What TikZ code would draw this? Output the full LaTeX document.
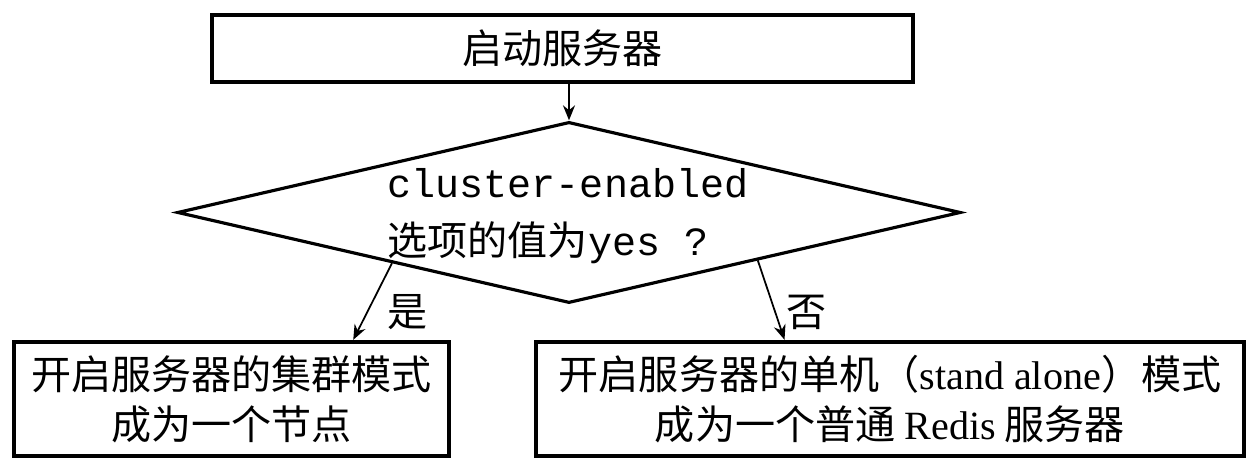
\documentclass[tikz,border=0pt]{standalone}
\usepackage{fontspec}
\setmainfont{Liberation Serif}
\setmonofont{Liberation Mono}
\newfontfamily\cjk{Noto Sans CJK SC}
\usepackage{tikz}
\usetikzlibrary{shapes.geometric, arrows.meta, calc}

\begin{document}
\begin{tikzpicture}[x=0.01cm, y=-0.01cm, >={Stealth[length=1.5mm, width=1.2mm]},
  box/.style={draw, line width=1.2pt, inner sep=0pt, font=\cjk\fontsize{11.4}{14.2}\selectfont, align=center},
  lbl/.style={font=\cjk\fontsize{11.4}{14}\selectfont}]
\useasboundingbox (0,0) rectangle (1248,459);
\node[box, minimum width=7.01cm, minimum height=0.67cm] (start) at (562.5,48.5) {启动服务器};
\node[diamond, draw, line width=0.9pt, aspect=4.3, inner sep=0pt, minimum width=7.83cm, minimum height=1.81cm] (check) at (569,212.5) {};
\node[align=left, inner sep=0pt, font=\cjk\fontsize{11.4}{14}\selectfont] (checktext) at (568,216) {\texttt{cluster-enabled}\\[2.3pt]选项的值为\texttt{yes ?}};
\node[box, minimum width=4.35cm, minimum height=1.14cm] (cluster) at (231.5,399) {开启服务器的集群模式\\成为一个节点};
\node[box, minimum width=7.08cm, minimum height=1.14cm] (single) at (890,399) {开启服务器的单机（\textrm{stand alone}）模式\\成为一个普通~\textrm{Redis}~服务器};
% branches
\coordinate (yesfrom) at ($(check.west)!0.55!(check.south)$);
\coordinate (nofrom) at ($(check.east)!0.52!(check.south)$);
\coordinate (yesto) at ($(cluster.north west)!0.777!(cluster.north east)$);
\coordinate (noto) at ($(single.north west)!0.352!(single.north east)$);
\draw[->, line width=0.5pt] (start.south -| check.north) -- (check.north);
\draw[->, line width=0.5pt] (yesfrom) -- (yesto);
\draw[->, line width=0.5pt] (nofrom) -- (noto);
\node[lbl] (yeslbl) at (408,312) {是};
\node[lbl] (nolbl) at (807,312) {否};
\end{tikzpicture}
\end{document}
